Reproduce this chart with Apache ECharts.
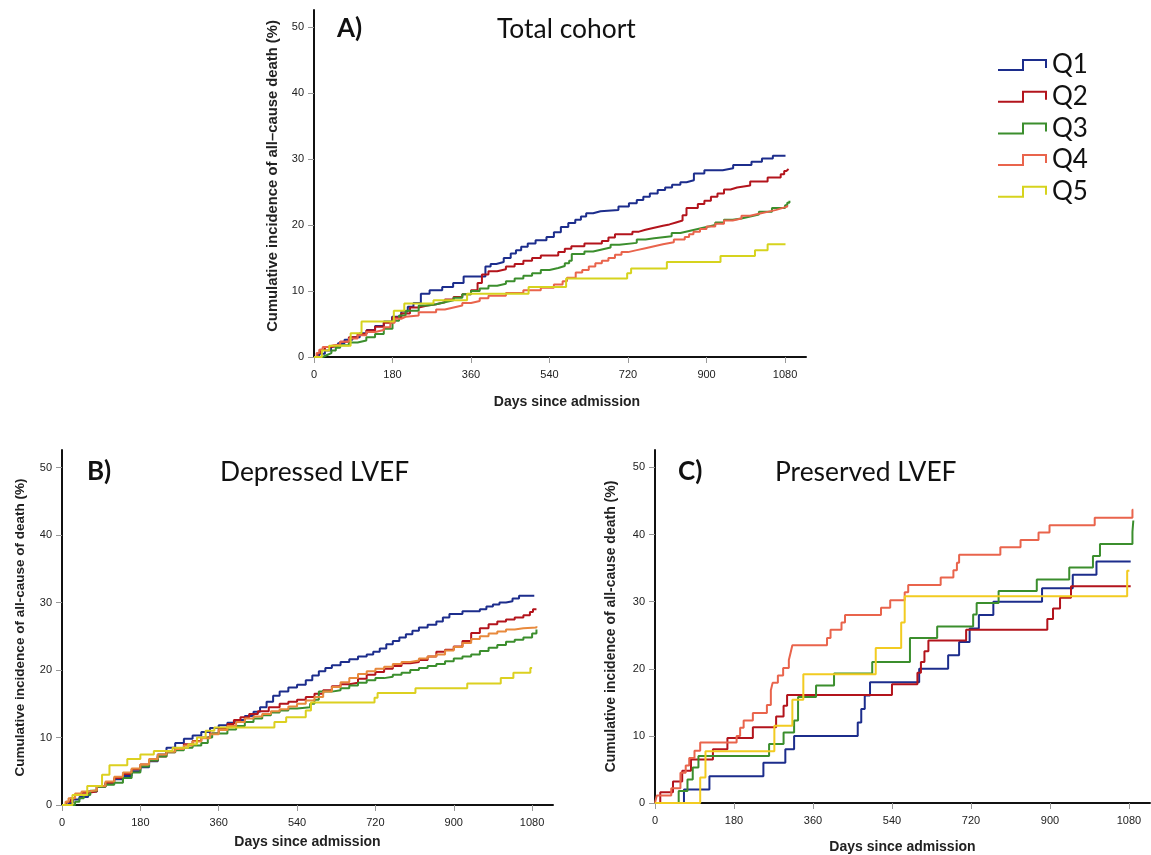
<!DOCTYPE html>
<html>
<head>
<meta charset="utf-8">
<script src="https://cdn.jsdelivr.net/npm/echarts@6/dist/echarts.min.js"></script>
<style>
html, body { margin: 0; padding: 0; background: #fff; }
#incidence { width: 1151px; height: 855px; }
</style>
</head>
<body>
<div id="incidence"></div>
<script>
// quintile groups and axis ticks
const groups = ['Q1', 'Q2', 'Q3', 'Q4', 'Q5'];
const dayTicks = [0, 180, 360, 540, 720, 900, 1080];
const pctTicks = [0, 10, 20, 30, 40, 50];

// A) Total cohort  -- [day, cumulative incidence %]
const totalQ1 = [[0,0],[12,0.5],[25,1],[39,1.6],[55,2.1],[70,2.6],[88,3],[105,3.6],[121,4.1],[140,4.7],[160,5.4],[179,6.1],[200,6.9],[215,7.6],[228,8.2],[245,9.6],[265,10.1],[294,10.6],[319,11.2],[343,12.2],[393,13.7],[405,14.1],[418,14.4],[435,15],[451,15.7],[463,16.2],[475,16.7],[490,17.2],[508,17.7],[533,18.2],[550,18.9],[566,19.7],[583,20.3],[599,20.8],[612,21.3],[624,21.8],[640,22.1],[657,22.3],[698,22.8],[722,23.3],[740,23.8],[755,24.3],[770,24.8],[788,25.3],[805,25.7],[821,26.1],[840,26.5],[854,26.8],[871,27.8],[895,28.3],[937,28.6],[961,29.1],[1003,29.6],[1027,30.1],[1052,30.5],[1081,30.5]];
const totalQ2 = [[0,0],[8,0.6],[15,1.1],[25,1.5],[40,1.8],[60,2.3],[80,3],[100,3.5],[120,4],[140,4.6],[160,5.2],[180,6],[200,6.6],[220,7.5],[240,7.8],[260,8],[280,8.3],[300,8.7],[320,9.1],[340,9.5],[360,10.1],[375,11.2],[385,12.5],[400,13],[420,13.3],[440,13.7],[460,14.1],[480,14.6],[500,15],[520,15.4],[560,15.9],[575,16.4],[590,16.8],[620,17.2],[660,17.6],[675,18.1],[690,18.6],[730,19],[745,19.3],[760,19.6],[780,19.9],[800,20.1],[815,20.4],[830,20.7],[845,21.5],[854,22.6],[880,23.2],[895,23.7],[910,24.3],[925,24.8],[940,25.4],[955,25.7],[970,26],[1000,26.6],[1040,27.2],[1070,27.7],[1078,28.2],[1083,28.5],[1088,28.5]];
const totalQ3 = [[0,0],[20,0.3],[30,0.6],[40,1],[50,1.4],[60,1.8],[80,2.2],[100,2.5],[120,3],[140,3.5],[160,4.3],[180,5.5],[195,6.3],[210,7],[240,7.8],[260,8],[280,8.3],[300,8.6],[320,9],[340,9.5],[360,10],[380,10.4],[400,10.8],[420,11.1],[440,11.5],[460,11.9],[480,12.3],[500,12.7],[520,13.2],[540,13.5],[560,13.8],[575,14.2],[585,14.6],[591,15.6],[620,16],[640,16.3],[660,16.6],[680,17],[700,17.3],[740,17.8],[760,18],[780,18.3],[820,18.8],[840,19.1],[860,19.4],[880,19.7],[900,20],[920,20.4],[940,20.8],[960,21],[980,21.3],[1000,21.6],[1020,22],[1050,22.6],[1080,23],[1085,23.4],[1090,23.7]];
const totalQ4 = [[0,0],[6,0.6],[12,1.1],[20,1.5],[30,1.8],[45,1.9],[60,2.3],[80,2.8],[100,3.3],[120,3.8],[140,4.1],[160,4.5],[175,5.2],[185,5.8],[200,6.1],[210,6.3],[240,6.8],[280,7.2],[300,7.5],[320,7.8],[340,8.2],[360,8.5],[380,8.9],[400,9.3],[440,9.7],[480,10.1],[520,10.5],[550,11],[570,11.5],[580,12],[600,12.8],[615,13.2],[630,13.7],[645,14.2],[660,14.6],[675,15],[690,15.5],[705,15.9],[720,16.2],[740,16.5],[760,16.8],[780,17.1],[800,17.4],[825,17.8],[850,18.2],[860,18.6],[870,19],[885,19.4],[900,19.8],[920,20.2],[940,20.7],[960,21],[980,21.4],[1000,21.7],[1020,22],[1040,22.3],[1060,22.6],[1075,22.8],[1085,23]];
const totalQ5 = [[0,0],[18,1],[35,1.7],[84,3.6],[109,5.4],[183,7],[207,8.1],[274,8.6],[351,9.6],[492,10.6],[578,11.9],[718,12.7],[727,13.4],[809,14.4],[932,15.3],[1011,16.2],[1040,17.1],[1081,17.1]];

// B) Depressed LVEF
const depressedQ1 = [[0,0],[15,0.3],[25,0.8],[40,1.2],[60,2],[80,2.8],[100,3.3],[120,3.8],[140,4.3],[160,5],[180,5.6],[200,6.5],[220,7.5],[240,8.5],[260,9.2],[280,9.8],[300,10.3],[320,10.8],[340,11.4],[360,11.8],[380,12.2],[400,12.6],[420,13.2],[440,13.8],[455,14.5],[470,15.3],[485,16.2],[500,16.8],[520,17.4],[540,17.8],[560,18.5],[575,19.2],[590,19.8],[605,20.3],[620,20.7],[640,21.2],[660,21.6],[680,22],[700,22.3],[715,22.7],[730,23.2],[745,23.8],[760,24.3],[775,24.8],[790,25.3],[805,25.8],[820,26.3],[840,26.7],[860,27.2],[875,27.8],[890,28.3],[920,28.7],[960,29],[975,29.4],[990,29.7],[1005,30],[1020,30.2],[1035,30.6],[1050,31],[1085,31.1]];
const depressedQ2 = [[0,0],[10,0.5],[20,1],[30,1.5],[45,1.8],[60,2],[80,2.7],[100,3.3],[120,4],[140,4.6],[160,5.3],[180,6],[200,6.6],[220,7.2],[240,7.8],[260,8.4],[280,9],[300,9.5],[320,10],[340,10.6],[360,11.3],[380,12],[395,12.6],[410,13],[430,13.5],[450,13.9],[475,14.5],[500,15],[520,15.3],[540,15.6],[560,16],[580,16.5],[600,17],[620,17.6],[640,17.9],[660,18.1],[680,18.7],[700,19.3],[720,19.7],[740,20.2],[760,20.6],[780,21],[800,21.2],[820,21.5],[840,22],[860,22.7],[880,23],[900,23.5],[920,24.3],[940,25.5],[960,26.2],[980,26.8],[1000,27.2],[1020,27.5],[1040,27.8],[1060,28.1],[1075,28.6],[1082,29],[1090,29]];
const depressedQ3 = [[0,0],[30,0.5],[40,1],[50,1.5],[65,2.1],[80,2.7],[100,3],[120,3.3],[140,4],[160,4.8],[180,5.7],[200,6.6],[220,7.2],[240,7.8],[260,8.1],[280,8.5],[300,8.8],[320,9.2],[335,10],[345,10.6],[380,11.2],[400,11.7],[420,12.3],[440,12.8],[460,13.3],[480,13.7],[500,14],[520,14.3],[540,14.5],[570,15],[580,15.6],[590,16.8],[620,17],[640,17.3],[660,17.7],[680,18.1],[700,18.5],[720,18.8],[740,19],[760,19.3],[780,19.6],[800,20],[820,20.3],[840,20.6],[860,20.9],[880,21.3],[900,21.7],[920,22],[940,22.3],[960,22.8],[980,23.3],[1000,23.7],[1020,24.2],[1040,24.5],[1060,24.8],[1080,25.4],[1090,26]];
const depressedQ4 = [[0,0],[8,0.5],[15,1],[30,1.7],[45,2],[60,2.2],[80,2.8],[100,3.5],[120,4.2],[140,4.8],[160,5.4],[180,6],[200,6.8],[220,7.5],[240,7.9],[260,8.3],[280,8.8],[300,9.4],[320,9.9],[340,10.5],[360,11.1],[380,11.7],[400,12.3],[420,12.8],[440,13.1],[460,13.5],[480,13.9],[500,14.2],[520,14.6],[540,15],[560,15.5],[580,16],[600,16.8],[620,17.5],[640,18.2],[660,18.8],[680,19.4],[700,19.8],[720,20.2],[740,20.5],[760,20.9],[780,21.2],[800,21.4],[820,21.7],[840,22],[860,22.3],[880,22.9],[900,23.4],[920,24],[940,24.6],[960,25],[980,25.4],[1000,25.7],[1020,26],[1040,26.2],[1060,26.3],[1090,26.5]];
const depressedQ5 = [[0,0],[24,1.5],[58,2.8],[92,4.5],[109,5.9],[150,6.8],[180,7.5],[211,8],[254,8.5],[290,9],[310,10],[330,11],[350,11.5],[488,12.3],[515,13],[560,14],[572,15.2],[718,15.9],[725,16.6],[812,17.3],[931,18],[1008,18.8],[1037,19.6],[1076,20.3],[1080,20.3]];

// C) Preserved LVEF
const preservedQ1 = [[0,0],[66,2],[124,4],[247,6],[297,8],[317,10],[462,12],[470,14],[478,16],[490,18],[602,20],[668,22],[693,24],[717,26],[738,28],[771,30],[882,32],[952,34],[1006,36],[1084,36]];
const preservedQ2 = [[0,0],[12,1.6],[41,3.2],[62,4.8],[82,6.5],[132,8],[165,9.7],[223,11.3],[276,12.9],[293,14.5],[301,16.1],[540,17.7],[598,19.4],[606,21],[614,22.6],[623,24.2],[709,25.8],[894,27.4],[907,29],[923,30.6],[948,32.3],[1084,32.3]];
const preservedQ3 = [[0,0],[54,1.8],[74,3.5],[86,5.3],[99,7],[260,8.8],[293,10.5],[317,12.3],[326,15.8],[367,17.5],[408,19.3],[495,21],[581,24.6],[643,26.3],[725,28.1],[733,29.8],[783,31.6],[870,33.3],[944,35.1],[998,36.8],[1014,38.6],[1088,40.4],[1090,42.1]];
const preservedQ4 = [[0,0],[4,1.1],[37,2.2],[58,4.5],[70,5.6],[78,6.7],[90,7.8],[103,9],[186,10],[194,11.2],[202,12.3],[223,13.4],[255,14.6],[264,16.8],[268,17.9],[280,19],[292,20.1],[305,21.3],[309,22.4],[313,23.5],[392,24.6],[400,25.8],[425,26.9],[433,28],[515,29.1],[536,30.2],[569,31.4],[577,32.5],[651,33.6],[680,34.7],[688,35.8],[693,37],[787,38.1],[833,39.2],[874,40.3],[899,41.4],[1002,42.5],[1088,43.7],[1090,43.7]];
const preservedQ5 = [[0,0],[103,3.8],[115,7.7],[272,11.5],[313,15.4],[338,19.2],[503,23.1],[561,26.9],[569,30.8],[1076,34.6],[1081,34.6]];

const panels = [
    { tag: 'A)', title: 'Total cohort', yName: 'Cumulative incidence of all\u2013cause death (%)',
      data: [totalQ1, totalQ2, totalQ3, totalQ4, totalQ5],
      colors: ['#1c2d8c', '#b3141c', '#3b8e2d', '#e9644c', '#d6d31e'] },
    { tag: 'B)', title: 'Depressed LVEF', yName: 'Cumulative incidence of all-cause of death (%)',
      data: [depressedQ1, depressedQ2, depressedQ3, depressedQ4, depressedQ5],
      colors: ['#1c2d8c', '#b3141c', '#3b8e2d', '#e8893c', '#dcd020'] },
    { tag: 'C)', title: 'Preserved LVEF', yName: 'Cumulative incidence of all-cause death (%)',
      data: [preservedQ1, preservedQ2, preservedQ3, preservedQ4, preservedQ5],
      colors: ['#1c2d8c', '#b3141c', '#3b8e2d', '#e9644c', '#f2cb21'] }
];

// layout of the three plots (pixels)
const grids = [
    { left: 314, top: 10, width: 492, height: 347 },
    { left: 62, top: 450, width: 491, height: 355 },
    { left: 655, top: 450, width: 495, height: 353 }
];
const yNameSize = [14.8, 13.5, 14];
const yNameGap = [34, 35, 37];
const yNamePad = [[0, 0, 0, 15], 0, 0];
const xNameGap = [38, 30, 37];
const xNamePad = [[0, 0, 0, 14], 0, 0];
const tagLeft = [332, 82, 673];
const titleLeft = [492, 215, 770];
const titleTop = [11, 454, 454];

const font = 'Liberation Sans, Arial, sans-serif';
let titles = [], xAxes = [], yAxes = [], series = [];
panels.forEach(function (p, i) {
    titles.push({ text: p.tag, left: tagLeft[i], top: titleTop[i],
        textStyle: { fontFamily: 'Lato', fontSize: 26, fontWeight: 'bold', color: '#111' } });
    titles.push({ text: p.title, left: titleLeft[i], top: titleTop[i],
        textStyle: { fontFamily: 'Lato', fontSize: 26.4, fontWeight: 'normal', color: '#111' } });
    xAxes.push({
        type: 'value', gridIndex: i, min: 0, max: 1128,
        name: 'Days since admission', nameLocation: 'middle', nameGap: xNameGap[i],
        nameTextStyle: { fontFamily: font, fontWeight: 'bold', fontSize: 14, color: '#222', padding: xNamePad[i] },
        axisLine: { show: true, lineStyle: { color: '#111', width: 2 } },
        axisTick: { show: true, length: 6, customValues: dayTicks, lineStyle: { color: '#999' } },
        axisLabel: { customValues: dayTicks, formatter: function (v) { return String(v); },
            fontFamily: font, fontSize: 11, color: '#222', margin: 12 },
        splitLine: { show: false }
    });
    yAxes.push({
        type: 'value', gridIndex: i, min: 0, max: 52.6,
        name: p.yName, nameLocation: 'middle', nameGap: yNameGap[i],
        nameTextStyle: { fontFamily: font, fontWeight: 'bold', fontSize: yNameSize[i], color: '#222', padding: yNamePad[i] },
        axisLine: { show: true, lineStyle: { color: '#111', width: 2 } },
        axisTick: { show: true, length: 6, customValues: pctTicks, lineStyle: { color: '#999' } },
        axisLabel: { customValues: pctTicks, formatter: function (v) { return String(v); },
            fontFamily: font, fontSize: 11, color: '#222', margin: 10 },
        splitLine: { show: false }
    });
    groups.forEach(function (g, j) {
        series.push({
            name: g, type: 'line', xAxisIndex: i, yAxisIndex: i,
            step: 'end', symbol: 'none', data: p.data[j],
            color: p.colors[j],
            lineStyle: { width: 2, color: p.colors[j] }
        });
    });
});

let myChart = echarts.init(document.getElementById('incidence'));
myChart.setOption({
    animation: false,
    backgroundColor: '#fff',
    title: titles,
    legend: {
        data: groups.map(function (g) {
            return { name: g, icon: 'path://M0,10 L24,10 L24,0 L49,0 L49,9 L47,9 L47,2 L26,2 L26,12 L0,12 Z' };
        }),
        orient: 'vertical', left: 993, top: 47,
        itemWidth: 49, itemHeight: 12, itemGap: 5.7,
        itemStyle: { borderWidth: 0 },
        textStyle: { fontFamily: 'Lato', fontSize: 26, lineHeight: 26, color: '#111' }
    },
    grid: grids,
    xAxis: xAxes,
    yAxis: yAxes,
    series: series
});
window.addEventListener('resize', function () {
    myChart.resize();
});
</script>
</body>
</html>
